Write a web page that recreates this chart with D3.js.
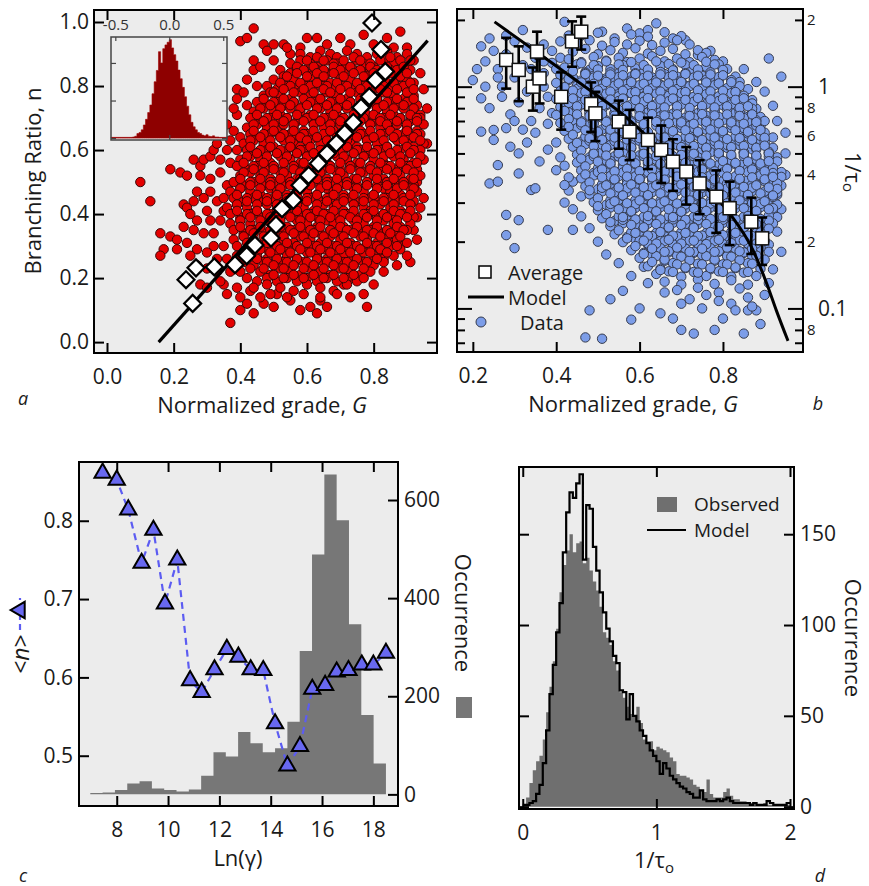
<!DOCTYPE html>
<html><head><meta charset="utf-8">
<script src="https://cdn.jsdelivr.net/npm/d3@7/dist/d3.min.js"></script>
<style>body{margin:0;background:#fff;}</style>
</head><body>
<script>
// ================= DATA =================
// ---- Panel a ----
const aXTicks=[0,0.2,0.4,0.6,0.8];
const aYTicks=[0,0.2,0.4,0.6,0.8,1.0];
// scatter points, pairs (G*100, n*100): outer cloud and outliers
const redXY=[
10,50, 13,44, 16,34, 17,29, 16,27, 19,54, 22,53, 24,52, 26,57, 28,55, 28,52, 19,33, 21,32, 23,43, 24,42, 23,36, 24,31, 27,29, 27,38, 29,57, 31,58, 32,60, 28,18, 30,17, 35,18, 37,6, 40,10, 42,12, 44,9, 47,12, 40,94, 44,98, 42,95, 39,79, 39,71, 42,74, 44,85, 44,88, 47,93, 50,93, 48,91, 53,93, 78,11, 91,25, 93,32, 93,50, 88,97, 90,92, 70,95, 63,95, 58,92, 55,13, 58,10, 61,11, 64,13, 51,15, 71,18, 74,20, 83,27, 85,31, 88,30, 93,39,
31,47, 33,44, 30,41, 34,38, 32,34, 35,30, 33,26, 36,49, 34,53, 37,56, 35,45, 31,38, 30,28, 33,22, 27,24, 26,44, 29,45, 31,51, 34,57, 36,60, 37,63, 38,66, 36,68, 40,64, 33,62, 39,60, 35,41, 32,30, 36,26, 37,22, 34,19, 36,15, 39,17, 25,27, 29,34, 30,23, 27,47, 25,40, 21,29, 26,35, 39,76, 41,78, 42,82, 45,80, 38,73, 46,86, 50,88, 55,90, 54,92, 60,95, 66,93, 73,93, 80,93, 84,95, 86,92, 77,96, 92,88, 94,84, 95,79, 96,73, 96,62, 95,45, 94,42, 92,35, 90,27, 87,24, 83,22, 80,18, 77,15, 73,14, 66,11, 63,9, 50,11, 46,14, 43,16, 40,14,
58,90, 61,89, 64,91, 67,90, 69,89, 72,91, 75,90, 78,89, 81,90, 84,91, 87,89, 90,90,
55,87, 58,88, 61,87, 63,86, 66,88, 69,87, 72,86, 75,88, 77,87, 80,86, 83,88, 86,87, 89,86, 91,88,
52,85, 55,84, 57,85, 60,84, 63,85, 66,84, 68,85, 71,84, 74,85, 77,84, 79,85, 82,84, 85,85, 88,84, 91,85,
50,82, 53,83, 56,82, 59,81, 61,83, 64,82, 67,81, 70,83, 73,82, 76,81, 78,83, 81,82, 84,81, 87,83, 90,82, 92,81,
48,80, 51,79, 54,80, 57,79, 60,80, 62,79, 65,80, 68,79, 71,80, 74,79, 77,80, 80,79, 82,80, 85,79, 88,80, 91,79,
47,77, 49,78, 52,77, 55,76, 58,78, 61,77, 64,76, 66,78, 69,77, 72,76, 75,78, 78,77, 81,76, 83,78, 86,77, 89,76, 92,77,
45,75, 48,74, 51,75, 53,74, 56,75, 59,74, 62,75, 65,74, 68,75, 70,74, 73,75, 76,74, 79,75, 82,74, 85,75, 87,74, 90,75, 93,74,
44,72, 47,73, 50,72, 52,71, 55,73, 58,72, 61,71, 64,73, 67,72, 69,71, 72,73, 75,72, 78,71, 81,73, 84,72, 86,71, 89,73, 92,72, 94,71,
43,70, 46,69, 49,70, 52,69, 54,70, 57,69, 60,70, 63,69, 66,70, 69,69, 71,70, 74,69, 77,70, 80,69, 83,70, 86,69, 88,70, 91,69, 94,70,
42,67, 45,68, 48,67, 51,66, 53,68, 56,67, 59,66, 62,68, 65,67, 68,66, 70,68, 73,67, 76,66, 79,68, 82,67, 85,66, 87,68, 90,67, 93,66, 95,68,
43,65, 46,64, 49,65, 52,64, 55,65, 57,64, 60,65, 63,64, 66,65, 69,64, 72,65, 74,64, 77,65, 80,64, 83,65, 86,64, 89,65, 91,64, 94,65,
41,62, 44,63, 47,62, 50,61, 53,63, 56,62, 58,61, 61,63, 64,62, 67,61, 70,63, 73,62, 75,61, 78,63, 81,62, 84,61, 87,63, 90,62, 92,61, 95,62,
42,60, 45,59, 48,60, 51,59, 54,60, 57,59, 59,60, 62,59, 65,60, 68,59, 71,60, 74,59, 76,60, 79,59, 82,60, 85,59, 88,60, 91,59, 94,60,
40,57, 43,58, 46,57, 49,56, 52,58, 55,57, 58,56, 60,58, 63,57, 66,56, 69,58, 72,57, 75,56, 77,58, 80,57, 83,56, 86,58, 89,57, 92,56, 95,57,
39,55, 42,54, 45,55, 48,54, 50,55, 53,54, 56,55, 59,54, 62,55, 65,54, 67,55, 70,54, 73,55, 76,54, 79,55, 82,54, 84,55, 87,54, 90,55, 93,54,
40,52, 43,53, 46,52, 49,51, 52,53, 54,52, 57,51, 60,53, 63,52, 66,51, 69,53, 71,52, 74,51, 77,53, 80,52, 83,51, 86,53, 88,52, 91,51, 94,52,
38,50, 41,49, 44,50, 47,49, 50,50, 53,49, 55,50, 58,49, 61,50, 64,49, 67,50, 70,49, 72,50, 75,49, 78,50, 81,49, 84,50, 87,49, 89,50, 92,49,
37,47, 40,48, 43,47, 46,46, 49,48, 51,47, 54,46, 57,48, 60,47, 63,46, 66,48, 68,47, 71,46, 74,48, 77,47, 80,46, 83,48, 85,47, 88,46, 91,48, 93,47,
38,45, 41,44, 44,45, 47,44, 50,45, 53,44, 56,45, 59,44, 61,45, 64,44, 67,45, 70,44, 73,45, 76,44, 79,45, 81,44, 84,45, 87,44, 90,45, 92,44,
36,42, 39,43, 42,42, 45,41, 48,43, 51,42, 54,41, 57,43, 59,42, 62,41, 65,43, 68,42, 71,41, 74,43, 77,42, 79,41, 82,43, 85,42, 88,41, 91,43,
37,40, 40,39, 43,40, 46,39, 49,40, 52,39, 55,40, 58,39, 61,40, 63,39, 66,40, 69,39, 72,40, 75,39, 78,40, 81,39, 83,40, 86,39, 89,40, 92,39,
37,37, 40,38, 43,37, 46,36, 48,38, 51,37, 54,36, 57,38, 60,37, 63,36, 66,38, 68,37, 71,36, 74,38, 77,37, 80,36, 83,38, 86,37, 88,36, 91,37,
38,35, 41,34, 44,35, 47,34, 50,35, 53,34, 56,35, 59,34, 62,35, 64,34, 67,35, 70,34, 73,35, 76,34, 79,35, 82,34, 84,35, 87,34, 90,35,
38,32, 41,33, 44,32, 47,31, 50,33, 53,32, 56,31, 58,33, 61,32, 64,31, 67,33, 70,32, 73,31, 76,33, 78,32, 81,31, 84,33, 87,32, 90,31,
39,30, 42,29, 45,30, 48,29, 51,30, 54,29, 57,30, 60,29, 62,30, 65,29, 68,30, 71,29, 74,30, 77,29, 80,30, 82,29, 85,30, 88,29,
39,27, 42,28, 45,27, 48,26, 51,28, 54,27, 57,26, 60,28, 63,27, 66,26, 68,28, 71,27, 74,26, 77,28, 80,27, 83,26, 86,27,
41,25, 44,24, 47,25, 50,24, 53,25, 56,24, 59,25, 62,24, 65,25, 68,24, 71,25, 74,24, 77,25, 80,24, 83,25,
40,22, 43,23, 46,22, 49,21, 52,23, 55,22, 58,21, 61,23, 64,22, 67,21, 70,23, 73,22, 76,21, 79,22,
42,20, 45,19, 48,20, 51,19, 54,20, 57,19, 60,20, 63,19, 66,20, 69,19, 72,20, 75,19, 77,20,
44,17, 48,18, 52,17, 56,16, 60,18, 64,17, 68,16, 72,18,
49,15, 54,14, 59,15, 64,14, 69,15
];
// scatter points in the dense core, pairs (G*100, n*100)
const redCoreXY=[
60,88, 63,89, 65,88, 68,87, 71,88, 74,89, 76,88, 79,87, 82,88, 85,89, 88,88,
57,86, 59,85, 62,86, 65,85, 68,86, 70,85, 73,86, 76,85, 79,86, 81,85, 84,86, 87,85, 89,86,
54,83, 57,84, 60,83, 63,84, 65,83, 68,84, 71,83, 74,84, 77,83, 80,84, 82,83, 85,84, 88,83, 90,84,
52,81, 55,80, 58,81, 61,80, 63,81, 66,80, 69,81, 72,80, 75,81, 78,80, 81,81, 83,80, 86,81, 89,80, 91,81,
50,78, 53,79, 56,78, 59,79, 62,78, 65,79, 67,78, 70,79, 73,78, 76,79, 79,78, 82,79, 84,78, 87,79, 90,78, 92,79,
47,76, 50,75, 53,76, 56,75, 59,76, 61,75, 64,76, 67,75, 70,76, 73,75, 76,76, 78,75, 81,76, 84,75, 87,76, 90,75, 92,76,
46,73, 49,74, 52,73, 55,74, 58,73, 60,74, 63,73, 66,74, 69,73, 72,74, 75,73, 78,74, 81,73, 83,74, 86,73, 89,74, 92,73,
45,71, 48,70, 51,71, 54,70, 57,71, 60,70, 62,71, 65,70, 68,71, 71,70, 74,71, 77,70, 80,71, 82,70, 85,71, 88,70, 91,71, 93,70,
44,68, 47,69, 50,68, 53,69, 56,68, 59,69, 62,68, 64,69, 67,68, 70,69, 73,68, 76,69, 79,68, 82,69, 84,68, 87,69, 90,68, 93,69,
44,66, 47,65, 50,66, 53,65, 56,66, 59,65, 62,66, 65,65, 67,66, 70,65, 73,66, 76,65, 79,66, 82,65, 85,66, 87,65, 90,66, 93,65,
43,63, 46,64, 49,63, 52,64, 55,63, 58,64, 60,63, 63,64, 66,63, 69,64, 72,63, 75,64, 78,63, 80,64, 83,63, 86,64, 89,63, 92,64, 94,63,
43,61, 46,60, 49,61, 52,60, 55,61, 58,60, 61,61, 64,60, 67,61, 70,60, 72,61, 75,60, 78,61, 81,60, 84,61, 87,60, 90,61, 92,60,
42,58, 45,59, 48,58, 51,59, 54,58, 57,59, 60,58, 62,59, 65,58, 68,59, 71,58, 74,59, 77,58, 80,59, 83,58, 85,59, 88,58, 91,59, 94,58,
41,56, 44,55, 47,56, 50,55, 53,56, 56,55, 59,56, 62,55, 64,56, 67,55, 70,56, 73,55, 76,56, 79,55, 82,56, 85,55, 88,56, 91,55, 93,56,
41,53, 44,54, 47,53, 50,54, 53,53, 56,54, 58,53, 61,54, 64,53, 67,54, 70,53, 73,54, 76,53, 79,54, 81,53, 84,54, 87,53, 90,54, 92,53,
40,51, 43,50, 46,51, 49,50, 52,51, 55,50, 58,51, 61,50, 63,51, 66,50, 69,51, 72,50, 75,51, 78,50, 81,51, 84,50, 86,51, 89,50, 92,51,
40,48, 43,49, 46,48, 49,49, 52,48, 55,49, 58,48, 61,49, 64,48, 66,49, 69,48, 72,49, 75,48, 78,49, 81,48, 84,49, 87,48, 89,49, 92,48,
39,46, 42,45, 45,46, 48,45, 51,46, 54,45, 57,46, 60,45, 63,46, 66,45, 68,46, 71,45, 74,46, 77,45, 80,46, 83,45, 86,46, 89,45, 91,46,
39,43, 42,44, 45,43, 48,44, 51,43, 54,44, 57,43, 60,44, 63,43, 66,44, 69,43, 71,44, 74,43, 77,44, 80,43, 83,44, 86,43, 89,44, 91,43,
39,41, 42,40, 45,41, 48,40, 51,41, 54,40, 57,41, 60,40, 63,41, 65,40, 68,41, 71,40, 74,41, 77,40, 80,41, 83,40, 86,41, 88,40, 91,41,
40,38, 43,39, 46,38, 49,39, 52,38, 55,39, 58,38, 61,39, 64,38, 67,39, 70,38, 73,39, 75,38, 78,39, 81,38, 84,39, 87,38, 90,39,
40,36, 43,35, 46,36, 49,35, 52,36, 55,35, 58,36, 61,35, 64,36, 67,35, 70,36, 72,35, 75,36, 78,35, 81,36, 84,35, 87,36, 89,35,
41,33, 44,34, 47,33, 50,34, 53,33, 56,34, 59,33, 62,34, 65,33, 68,34, 71,33, 74,34, 77,33, 80,34, 82,33, 85,34, 88,33,
42,31, 45,30, 48,31, 51,30, 54,31, 57,30, 60,31, 63,30, 66,31, 69,30, 72,31, 75,30, 78,31, 81,30, 84,31, 87,30,
43,28, 46,29, 49,28, 52,29, 55,28, 58,29, 61,28, 64,29, 67,28, 70,29, 73,28, 76,29, 79,28, 82,29, 84,28,
45,26, 48,25, 51,26, 54,25, 57,26, 60,25, 63,26, 66,25, 69,26, 72,25, 75,26, 78,25, 81,26,
47,23, 50,24, 53,23, 56,24, 59,23, 62,24, 65,23, 68,24, 71,23, 74,24, 77,23,
50,21, 53,20, 56,21, 59,20, 62,21, 65,20, 68,21, 71,20, 74,21
];
// averages (white diamonds)
const diaG=[0.795,0.822,0.835,0.805,0.787,0.762,0.739,0.713,0.688,0.660,0.634,0.605,0.579,0.559,0.525,0.507,0.492,0.444,0.419,0.384,0.322,0.267,0.237,0.257];
const diaN=[0.997,0.914,0.845,0.818,0.767,0.733,0.686,0.652,0.621,0.589,0.558,0.521,0.490,0.443,0.417,0.366,0.325,0.303,0.270,0.242,0.235,0.232,0.195,0.121];
// model line
const modelAG=[0.155,0.962];
const modelAN=[0.0,0.942];
// inset histogram
const insetEdges=[-0.54,-0.52,-0.50,-0.48,-0.46,-0.44,-0.42,-0.40,-0.38,-0.36,-0.34,-0.32,-0.30,-0.28,-0.26,-0.24,-0.22,-0.20,-0.18,-0.16,-0.14,-0.12,-0.10,-0.08,-0.06,-0.04,-0.02,0,0.02,0.04,0.06,0.08,0.10,0.12,0.14,0.16,0.18,0.20,0.22,0.24,0.26,0.28,0.30,0.32,0.34,0.36,0.38,0.40,0.42,0.44,0.46,0.48,0.50,0.52,0.54];
const insetCounts=[2,2,2,2,2,2,2,2,2,2,3,5,12,15,22,35,50,68,88,118,150,180,230,200,238,248,255,262,240,222,205,181,158,135,110,85,62,42,30,22,15,12,8,6,9,5,4,6,3,3,2,2,2,2];
const insetXTicks=[-0.5,0,0.5];
const insetYTicks=[0,100,200];

// ---- Panel b ----
const bXTicks=[0.2,0.4,0.6,0.8];
const bMinorT=[0.07,0.08,0.09,0.2,0.3,0.4,0.5,0.6,0.7,0.8,0.9,2];
const bMinorL=["","8","","2","","4","","6","","8","","2"];
const bMajorT=[0.1,1];
const bMajorL=["0.1","1"];
// scatter points, pairs (G*100, (1/tau)*1000)
const blueXY=[
20,1070, 22,1520, 24,1650, 22,886, 25,638, 22,627, 25,575, 29,536, 31,500, 26,443, 24,366, 26,373, 31,406, 34,342, 35,348, 42,300, 28,264, 31,250, 28,214, 30,187, 38,226, 44,226, 44,373,
23,1300, 26,1200, 28,1400, 30,1600, 33,1500, 27,1000, 30,1100, 32,1250, 35,1350, 37,1550, 39,1450, 24,800, 27,900, 29,750, 31,850, 33,950, 35,1050, 37,1150, 38,900, 36,800, 34,700, 32,640, 30,700, 28,650, 35,620, 38,680, 39,760, 37,1000, 39,1280, 41,1350, 41,1600, 43,1700, 40,560, 38,520, 41,480, 42,440, 40,420, 43,390, 36,460, 33,560, 26,1100, 21,1200, 23,1000, 25,1450, 28,1700, 32,1800, 34,1200, 37,1300, 40,1200,
42,1960, 51,1770, 57,1830, 60,1740, 64,1930, 62,1800, 68,1650, 71,1620, 74,1390, 77,1450, 80,1300, 85,1200, 88,1050, 91,1340, 94,1110, 90,950, 92,820, 93,700, 95,620,
48,98, 47,74, 51,73, 58,89, 61,154, 70,80, 73,77, 78,80, 85,77, 86,98, 88,98, 93,222, 93,325, 95,400, 95,500, 94,280, 94,180, 92,150, 91,130, 90,115, 89,85, 80,90, 76,115, 70,105, 66,118, 62,130, 58,140, 55,160, 52,175, 50,200, 48,230, 46,260, 44,280, 46,320, 43,340, 42,360, 53,110, 56,120, 60,100, 65,95, 68,90, 82,105,
46,1700, 50,1750, 54,1650, 58,1720, 62,1680, 66,1760, 70,1690,
45,1570, 48,1620, 51,1530, 54,1590, 57,1550, 60,1610, 63,1540, 66,1580, 69,1620, 72,1550,
44,1440, 47,1480, 50,1400, 53,1460, 56,1420, 59,1490, 62,1410, 65,1450, 68,1480, 71,1400, 74,1460, 76,1420,
43,1330, 46,1290, 49,1360, 52,1310, 55,1350, 57,1290, 60,1340, 63,1370, 66,1300, 69,1340, 72,1290, 75,1360, 78,1320,
42,1220, 45,1260, 48,1190, 50,1240, 53,1200, 56,1250, 59,1210, 62,1180, 65,1240, 68,1200, 71,1250, 73,1190, 76,1230, 79,1260, 81,1200,
41,1130, 44,1100, 47,1160, 49,1120, 52,1090, 55,1150, 58,1110, 61,1160, 63,1100, 66,1140, 69,1110, 72,1160, 75,1120, 77,1090, 80,1150, 83,1110,
40,1040, 43,1070, 45,1010, 48,1050, 51,1020, 54,1070, 57,1030, 59,1000, 62,1060, 65,1020, 68,1050, 71,1010, 73,1070, 76,1030, 79,1060, 82,1010, 84,1050,
41,955, 43,925, 46,985, 49,945, 52,925, 55,975, 57,935, 60,985, 63,950, 66,920, 69,970, 71,940, 74,985, 77,930, 80,965, 83,945, 86,975,
40,880, 42,905, 45,860, 48,895, 51,870, 54,850, 56,900, 59,875, 62,855, 65,905, 68,870, 70,890, 73,855, 76,900, 79,870, 81,850, 84,895, 87,870,
41,810, 44,790, 47,830, 50,800, 52,825, 55,785, 58,815, 61,835, 64,795, 66,820, 69,790, 72,830, 75,805, 78,785, 80,825, 83,800, 86,830, 88,795,
40,745, 43,765, 45,730, 48,755, 51,725, 54,760, 57,740, 60,720, 62,765, 65,735, 68,755, 71,725, 74,760, 76,740, 79,720, 82,760, 85,735, 87,765, 89,730,
41,686, 44,705, 47,670, 49,695, 52,665, 55,700, 58,680, 61,665, 64,705, 66,675, 69,695, 72,665, 75,700, 78,680, 80,705, 83,670, 86,695, 89,665, 90,700,
42,632, 45,650, 48,615, 51,640, 53,620, 56,655, 59,630, 62,610, 65,645, 68,625, 70,650, 73,615, 76,640, 79,625, 82,650, 84,615, 87,640, 90,620,
43,582, 46,565, 49,595, 52,575, 55,600, 57,565, 60,590, 63,575, 66,600, 69,565, 72,585, 74,600, 77,570, 80,590, 83,565, 86,595, 89,575, 92,590,
44,536, 47,550, 50,525, 53,545, 56,520, 58,550, 61,530, 64,545, 67,520, 70,550, 73,535, 75,520, 78,548, 81,530, 84,545, 87,522, 90,548, 92,530,
45,494, 48,480, 51,505, 54,485, 57,508, 60,490, 62,478, 65,505, 68,486, 71,500, 74,480, 77,506, 79,490, 82,478, 85,505, 88,485, 91,500, 93,480,
45,455, 48,468, 51,445, 53,462, 56,443, 59,466, 62,450, 65,470, 68,445, 71,460, 73,448, 76,468, 79,444, 82,462, 85,450, 88,468, 90,446, 93,460,
46,419, 49,408, 52,430, 55,412, 58,428, 61,406, 64,425, 67,410, 70,430, 72,412, 75,426, 78,406, 81,428, 84,415, 87,430, 89,408, 92,425, 94,412,
46,386, 49,398, 52,378, 55,395, 57,375, 60,392, 63,380, 66,398, 69,376, 72,394, 75,382, 77,398, 80,375, 83,392, 86,380, 89,397, 92,376, 94,392,
47,355, 50,345, 53,365, 56,348, 59,362, 62,344, 65,360, 68,350, 71,366, 74,346, 77,360, 80,344, 83,364, 86,350, 88,362, 91,345, 94,358,
48,327, 51,337, 54,320, 57,335, 60,318, 63,334, 66,322, 69,338, 72,320, 75,333, 78,318, 81,336, 84,324, 87,338, 90,319, 93,332,
49,301, 52,293, 55,309, 58,296, 61,310, 64,292, 67,306, 70,296, 73,310, 76,294, 79,305, 82,292, 85,308, 88,297, 91,310, 93,294,
50,277, 53,285, 56,270, 59,284, 62,272, 65,286, 68,270, 71,282, 74,272, 77,285, 80,270, 83,283, 86,273, 89,286, 92,271,
51,255, 54,248, 57,262, 60,250, 63,263, 66,247, 69,260, 72,250, 75,262, 78,248, 81,258, 84,250, 87,262, 90,248, 93,258,
53,235, 56,242, 59,229, 62,241, 65,230, 68,243, 71,229, 74,240, 77,231, 80,243, 83,229, 86,240, 89,232, 92,242,
54,216, 57,210, 60,222, 63,212, 66,223, 69,210, 72,220, 75,211, 78,223, 81,210, 84,220, 87,212, 90,222,
56,199, 59,205, 62,194, 65,204, 68,193, 71,203, 74,194, 77,205, 80,193, 83,203, 86,195, 89,205, 91,194,
58,183, 61,178, 64,188, 67,179, 70,189, 73,178, 76,187, 79,180, 82,189, 85,178, 88,186, 91,180,
60,169, 63,174, 66,164, 69,173, 72,165, 75,174, 78,164, 81,172, 84,165, 87,173, 90,166,
62,155, 65,151, 68,160, 71,152, 74,159, 77,150, 80,158, 83,152, 86,160, 89,151,
64,143, 67,147, 70,139, 73,146, 76,140, 79,147, 82,139, 85,145, 88,140,
66,132, 70,128, 74,135, 78,129, 82,134, 86,128,
69,121, 74,124, 79,118, 84,123,
72,110, 79,108, 86,112, 75,100, 83,98, 87,102
];
// scatter points in the dense core, pairs (G*100, (1/tau)*1000)
const blueCoreXY=[
46,1275, 49,1250, 52,1300, 55,1260, 58,1290, 61,1250, 64,1300, 67,1265, 70,1285, 73,1250, 76,1295, 78,1260,
44,1175, 47,1150, 50,1195, 53,1160, 56,1190, 59,1150, 62,1195, 65,1165, 68,1185, 71,1150, 74,1195, 77,1160, 80,1190,
43,1085, 46,1065, 49,1100, 52,1070, 55,1105, 58,1065, 61,1095, 64,1070, 67,1105, 70,1065, 73,1100, 76,1075, 79,1105, 82,1070,
42,995, 45,975, 48,1015, 51,980, 54,1010, 57,975, 60,1015, 63,985, 66,1010, 69,975, 72,1005, 75,980, 78,1015, 81,985, 84,1005,
43,915, 46,935, 49,900, 52,930, 55,905, 58,935, 61,900, 64,930, 67,910, 70,935, 73,900, 76,925, 79,905, 82,935, 85,910,
43,845, 46,830, 49,860, 52,835, 55,862, 58,830, 61,855, 64,835, 67,860, 70,830, 73,855, 76,835, 79,862, 82,832, 85,858, 87,840,
42,777, 45,795, 48,765, 51,790, 54,762, 57,792, 60,770, 63,795, 66,765, 69,790, 72,768, 75,795, 78,765, 81,790, 84,770, 87,795,
43,715, 46,700, 49,728, 52,705, 55,730, 58,700, 61,725, 64,708, 67,730, 70,700, 73,725, 76,705, 79,730, 82,700, 85,722, 88,705,
43,658, 46,672, 49,645, 52,670, 55,648, 58,675, 61,650, 64,668, 67,645, 70,672, 73,650, 76,670, 79,645, 82,672, 85,650, 88,668,
44,607, 47,595, 50,620, 53,598, 56,618, 59,594, 62,620, 65,600, 68,615, 71,595, 74,620, 77,600, 80,618, 83,595, 86,615, 89,600,
45,558, 48,570, 51,548, 54,568, 57,545, 60,570, 63,550, 66,567, 69,545, 72,570, 75,552, 78,568, 81,546, 84,570, 87,550, 90,566,
46,515, 49,505, 52,525, 55,508, 58,526, 61,505, 64,522, 67,508, 70,526, 73,505, 76,524, 79,510, 82,526, 85,506, 88,522, 91,508,
46,474, 49,485, 52,465, 55,484, 58,463, 61,486, 64,468, 67,483, 70,464, 73,486, 76,470, 79,484, 82,464, 85,486, 88,470, 91,483,
47,437, 50,428, 53,446, 56,430, 59,447, 62,428, 65,444, 68,430, 71,447, 74,428, 77,444, 80,432, 83,447, 86,428, 89,442, 92,430,
47,402, 50,412, 53,395, 56,410, 59,394, 62,412, 65,396, 68,410, 71,394, 74,412, 77,398, 80,410, 83,394, 86,412, 89,398, 92,408,
48,370, 51,362, 54,378, 57,364, 60,380, 63,362, 66,376, 69,364, 72,380, 75,362, 78,376, 81,366, 84,380, 87,362, 90,375, 93,366,
48,341, 51,350, 54,334, 57,348, 60,333, 63,350, 66,336, 69,348, 72,333, 75,350, 78,337, 81,348, 84,333, 87,350, 90,337, 93,346,
50,314, 53,307, 56,322, 59,308, 62,320, 65,306, 68,322, 71,309, 74,320, 77,306, 80,322, 83,310, 86,320, 89,307, 92,318,
50,289, 53,296, 56,282, 59,295, 62,283, 65,297, 68,282, 71,294, 74,284, 77,297, 80,282, 83,294, 86,284, 89,296, 92,283,
52,266, 55,260, 58,272, 61,259, 64,271, 67,260, 70,273, 73,259, 76,270, 79,261, 82,273, 85,259, 88,270, 91,262,
53,245, 56,251, 59,239, 62,250, 65,238, 68,252, 71,240, 74,250, 77,238, 80,251, 83,240, 86,252, 89,239, 91,249,
55,225, 58,220, 61,231, 64,219, 67,230, 70,220, 73,232, 76,219, 79,230, 82,221, 85,231, 88,219, 91,229,
57,207, 60,202, 63,212, 66,201, 69,211, 72,202, 75,213, 78,201, 81,211, 84,203, 87,212, 90,202,
59,191, 62,196, 65,187, 68,195, 71,186, 74,196, 77,187, 80,195, 83,186, 86,196, 89,188,
61,176, 64,172, 67,181, 70,171, 73,180, 76,172, 79,181, 82,171, 85,179, 88,173,
63,162, 66,166, 69,158, 72,165, 75,158, 78,166, 81,158, 84,165, 87,159,
65,149, 68,146, 71,153, 74,145, 77,152, 80,146, 83,153, 86,146
];
// more scatter points in the densest diagonal band, pairs (G*100, (1/tau)*1000)
const blueBandXY=[
47,1140, 50,1120, 53,1135, 56,1125, 59,1140, 62,1120, 65,1135, 68,1125, 71,1140, 74,1120, 77,1135, 80,1125,
46,1045, 49,1030, 52,1050, 55,1035, 58,1048, 61,1030, 64,1045, 67,1035, 70,1050, 73,1030, 76,1045, 79,1035, 82,1048,
44,960, 47,948, 50,962, 53,950, 56,958, 59,945, 62,962, 65,950, 68,958, 71,946, 74,962, 77,952, 80,958, 83,946,
44,885, 47,872, 50,888, 53,875, 56,884, 59,870, 62,888, 65,876, 68,884, 71,872, 74,888, 77,876, 80,884, 83,872, 85,886,
45,815, 48,802, 51,818, 54,805, 57,815, 60,800, 63,818, 66,806, 69,815, 72,802, 75,818, 78,806, 81,815, 84,802, 86,816,
45,750, 48,738, 51,752, 54,740, 57,750, 60,736, 63,752, 66,742, 69,750, 72,738, 75,752, 78,742, 81,750, 84,738, 87,750,
46,690, 49,680, 52,694, 55,682, 58,690, 61,678, 64,694, 67,684, 70,690, 73,680, 76,694, 79,684, 82,690, 85,680, 88,692,
47,636, 50,626, 53,640, 56,628, 59,636, 62,624, 65,640, 68,630, 71,636, 74,626, 77,640, 80,630, 83,636, 86,626, 89,638,
48,586, 51,576, 54,590, 57,578, 60,586, 63,574, 66,590, 69,580, 72,586, 75,576, 78,590, 81,580, 84,586, 87,576, 90,588,
49,540, 52,530, 55,543, 58,532, 61,540, 64,529, 67,543, 70,534, 73,540, 76,530, 79,543, 82,534, 85,540, 88,530, 90,542,
49,498, 52,489, 55,501, 58,490, 61,498, 64,487, 67,501, 70,492, 73,498, 76,489, 79,501, 82,492, 85,498, 88,489, 91,500,
50,459, 53,450, 56,462, 59,451, 62,459, 65,449, 68,462, 71,453, 74,459, 77,450, 80,462, 83,453, 86,459, 89,450, 91,461,
51,423, 54,415, 57,426, 60,416, 63,423, 66,414, 69,426, 72,417, 75,423, 78,415, 81,426, 84,417, 87,423, 90,415,
51,390, 54,382, 57,393, 60,383, 63,390, 66,381, 69,393, 72,384, 75,390, 78,382, 81,393, 84,384, 87,390, 90,382, 92,392,
52,359, 55,351, 58,362, 61,352, 64,359, 67,350, 70,362, 73,353, 76,359, 79,351, 82,362, 85,353, 88,359, 91,351,
53,330, 56,323, 59,333, 62,324, 65,330, 68,322, 71,333, 74,325, 77,330, 80,323, 83,333, 86,325, 89,330, 92,323,
54,304, 57,298, 60,307, 63,298, 66,304, 69,297, 72,307, 75,299, 78,304, 81,298, 84,307, 87,299, 90,304,
55,280, 58,274, 61,283, 64,274, 67,280, 70,273, 73,283, 76,275, 79,280, 82,274, 85,283, 88,275, 91,280,
56,258, 59,252, 62,261, 65,252, 68,258, 71,251, 74,261, 77,253, 80,258, 83,252, 86,261, 89,253,
58,238, 61,232, 64,240, 67,232, 70,238, 73,231, 76,240, 79,233, 82,238, 85,232, 88,240,
59,219, 62,213, 65,221, 68,213, 71,219, 74,212, 77,221, 80,214, 83,219, 86,213, 89,220,
61,202, 64,196, 67,204, 70,196, 73,202, 76,195, 79,204, 82,197, 85,202, 88,196,
63,186, 66,180, 69,188, 72,180, 75,186, 78,180, 81,188, 84,181, 87,186
];
// averages with error bars
const avgG=[0.28,0.31,0.354,0.344,0.36,0.412,0.438,0.46,0.484,0.494,0.55,0.576,0.62,0.652,0.68,0.712,0.744,0.784,0.816,0.868,0.894];
const avgV=[1.32,1.19,1.44,1.0,1.09,0.90,1.6,1.77,0.835,0.758,0.695,0.626,0.575,0.518,0.459,0.414,0.366,0.319,0.283,0.246,0.207];
const avgErr=[0.34,0.33,0.33,0.22,0.25,0.26,0.37,0.3,0.21,0.19,0.17,0.16,0.15,0.15,0.12,0.12,0.1,0.1,0.09,0.07,0.05];
// model curve
const modelBG=[0.252,0.354,0.48,0.552,0.68,0.816,0.872,0.908,0.928,0.956];
const modelBV=[1.96,1.43,0.966,0.771,0.462,0.268,0.183,0.125,0.098,0.0714];

// ---- Panel c ----
const cXTicks=[8,10,12,14,16,18];
const cLTicks=[0.5,0.6,0.7,0.8];
const cRTicks=[0,200,400,600];
const nX=[7.45,8.0,8.45,8.97,9.43,9.88,10.36,10.86,11.31,11.81,12.29,12.74,13.22,13.71,14.17,14.65,15.14,15.62,16.12,16.57,17.03,17.55,18.0,18.49];
const nY=[0.861,0.852,0.814,0.746,0.788,0.694,0.75,0.596,0.581,0.61,0.636,0.626,0.61,0.609,0.541,0.487,0.512,0.585,0.59,0.607,0.609,0.616,0.616,0.631];
const cEdges=[6.97,7.45,7.93,8.41,8.89,9.37,9.85,10.33,10.81,11.29,11.77,12.25,12.73,13.21,13.69,14.17,14.65,15.13,15.61,16.09,16.57,17.05,17.53,18.01,18.49];
const cCounts=[3,4,9,22,27,12,9,6,10,38,86,77,127,104,86,94,148,292,489,652,559,347,162,63];

// ---- Panel d ----
const dXTicks=[0,1,2];
const dYTicks=[0,50,100,150];
const dEdges=[0,.025,.05,.075,.1,.125,.15,.175,.2,.225,.25,.275,.3,.325,.35,.375,.4,.425,.45,.475,.5,.525,.55,.575,.6,.625,.65,.675,.7,.725,.75,.775,.8,.825,.85,.875,.9,.925,.95,.975,1,1.025,1.05,1.075,1.1,1.125,1.15,1.175,1.2,1.225,1.25,1.275,1.3,1.325,1.35,1.375,1.4,1.425,1.45,1.475,1.5,1.525,1.55,1.575,1.6,1.625,1.65,1.675,1.7,1.725,1.75,1.775,1.8,1.825,1.85,1.875,1.9,1.925,1.95,1.975,2];
const dObs=[1,5,13,20,25,28,37,52,66,80,98,118,133,141,150,140,145,146,134,137,130,124,119,110,96,93,89,80,75,63,60,55,51,50,55,46,37,36,36,31,33,32,31,30,27,25,18,17,17,16,15,12,11,9,8,15,7,5,5,5,8,10,6,4,4,3,3,2,2,2,1,1,2,1,1,1,1,1,1,1];
const dModel=[1,1,2,3,7,12,24,42,62,78,96,112,140,162,173,170,178,183,136,166,164,143,130,118,107,98,91,83,79,64,63,48,62,50,47,42,39,35,31,28,25,18,24,21,17,15,13,11,10,8,7,5,5,9,4,3,3,3,4,3,4,5,3,2,2,2,2,2,1,2,1,1,1,3,2,1,1,1,1,2];

// ================= DRAWING =================
const FONT="'Open Sans', 'DejaVu Sans', sans-serif";
const TXT="#1a1a1a";
const svg=d3.select("body").append("svg").attr("width",869).attr("height",886).attr("font-family",FONT);
const defs=svg.append("defs");
let clipId=0;
function plotBg(x0,y0,x1,y1,fill){
  svg.append("rect").attr("x",x0).attr("y",y0).attr("width",x1-x0).attr("height",y1-y0).attr("fill",fill||"#ececec");
  const id="cp"+(clipId++);
  defs.append("clipPath").attr("id",id).append("rect").attr("x",x0).attr("y",y0).attr("width",x1-x0).attr("height",y1-y0);
  return svg.append("g").attr("clip-path",`url(#${id})`);
}
function frame(x0,y0,x1,y1,stroke,w){
  svg.append("rect").attr("x",x0).attr("y",y0).attr("width",x1-x0).attr("height",y1-y0)
    .attr("fill","none").attr("stroke",stroke||"#000").attr("stroke-width",w||2);
}
function ax(gen,tx,ty,fs,tw,col){
  const g=svg.append("g").attr("transform",`translate(${tx},${ty})`).call(gen);
  g.select(".domain").remove();
  g.selectAll(".tick line").attr("stroke",col||"#000").attr("stroke-width",tw||2);
  g.selectAll(".tick text").attr("font-size",fs||21).attr("font-family",FONT).attr("fill",TXT);
  return g;
}
function pairs(arr,sx,sy){const out=[];for(let i=0;i<arr.length;i+=2)out.push([arr[i]/sx,arr[i+1]/sy]);return out;}

// ---------- Panel a ----------
const xa=d3.scaleLinear().domain([-0.039,0.99]).range([94,437]);
const ya=d3.scaleLinear().domain([-0.034,1.0375]).range([353,10]);
const ga=plotBg(94,10,437,353);
const redAll=pairs(redXY,100,100).concat(pairs(redCoreXY,100,100));
ga.append("g").selectAll("circle").data(redAll).join("circle")
  .attr("cx",d=>xa(d[0])).attr("cy",d=>ya(d[1])).attr("r",4.7)
  .attr("fill","#e40000").attr("stroke","#3a0606").attr("stroke-width",1);
ga.append("path").datum(d3.zip(modelAG,modelAN)).attr("fill","none").attr("stroke","#000").attr("stroke-width",3.2)
  .attr("d",d3.line().x(d=>xa(d[0])).y(d=>ya(d[1])));
ga.append("g").selectAll("path").data(d3.zip(diaG,diaN)).join("path")
  .attr("d",d3.symbol(d3.symbolSquare,144))
  .attr("transform",d=>`translate(${xa(d[0])},${ya(d[1])}) rotate(45)`)
  .attr("fill","#fff").attr("stroke","#000").attr("stroke-width",2.2);
// inset
const xi=d3.scaleLinear().domain([-0.54,0.535]).range([111,227]);
const yi=d3.scaleLinear().domain([-5,269]).range([140,37]);
svg.append("rect").attr("x",111).attr("y",37).attr("width",116).attr("height",103).attr("fill","#ececec");
svg.append("path").datum(insetEdges.map((e,i)=>[e,insetCounts[Math.min(i,insetCounts.length-1)]]))
  .attr("fill","#8e0000").attr("stroke","#a00000").attr("stroke-width",0.6)
  .attr("d",d3.area().curve(d3.curveStepAfter).x(d=>xi(d[0])).y0(yi(0)).y1(d=>yi(d[1])));
ax(d3.axisTop(xi).tickValues(insetXTicks).tickFormat(d=>d.toFixed(1)).tickSize(-4).tickPadding(7),0,37,15,1.2,"#444")
  .selectAll(".tick text").attr("fill","#333");
ax(d3.axisBottom(xi).tickValues([0]).tickFormat("").tickSize(-5),0,140,15,1.2,"#444");
ax(d3.axisLeft(yi).tickValues(insetYTicks).tickFormat("").tickSize(-5),111,0,15,1.2,"#444");
ax(d3.axisRight(yi).tickValues(insetYTicks).tickFormat("").tickSize(-5),227,0,15,1.2,"#444");
frame(111,37,227,140,"#444",1.5);
ax(d3.axisBottom(xa).tickValues(aXTicks).tickFormat(d3.format(".1f")).tickSize(-10).tickPadding(16),0,353,21);
ax(d3.axisTop(xa).tickValues(aXTicks).tickFormat("").tickSize(-10),0,10);
ax(d3.axisLeft(ya).tickValues(aYTicks).tickFormat(d3.format(".1f")).tickSize(-10).tickPadding(5),94,0,21);
ax(d3.axisRight(ya).tickValues(aYTicks).tickFormat("").tickSize(-10),437,0);
frame(94,10,437,353);
svg.append("text").attr("transform","translate(32,181) rotate(-90)").attr("text-anchor","middle")
  .attr("dominant-baseline","central").attr("font-size",22).attr("fill",TXT).text("Branching Ratio, n");
{const t=svg.append("text").attr("x",262).attr("y",413).attr("text-anchor","middle").attr("font-size",22).attr("fill",TXT);
 t.append("tspan").text("Normalized grade, "); t.append("tspan").attr("font-style","italic").text("G");}
svg.append("text").attr("x",23).attr("y",405).attr("text-anchor","middle").attr("font-size",18).attr("font-style","italic").attr("fill",TXT).text("a");

// ---------- Panel b ----------
const xb=d3.scaleLinear().domain([0.162,0.992]).range([457,803]);
const yb=d3.scaleLog().domain([0.0636,2.24]).range([352,9]);
const gb=plotBg(457,9,803,352);
const blueAll=pairs(blueXY,100,1000).concat(pairs(blueCoreXY,100,1000)).concat(pairs(blueBandXY,100,1000));
gb.append("g").selectAll("circle").data(blueAll).join("circle")
  .attr("cx",d=>xb(d[0])).attr("cy",d=>yb(d[1])).attr("r",4.7)
  .attr("fill","#7c9de8").attr("stroke","#353b4e").attr("stroke-width",1);
gb.append("path").datum(d3.zip(modelBG,modelBV)).attr("fill","none").attr("stroke","#000").attr("stroke-width",3)
  .attr("d",d3.line().curve(d3.curveMonotoneX).x(d=>xb(d[0])).y(d=>yb(d[1])));
const eb=gb.append("g").selectAll("g").data(d3.range(avgG.length)).join("g");
eb.append("line").attr("x1",i=>xb(avgG[i])).attr("x2",i=>xb(avgG[i]))
  .attr("y1",i=>yb(avgV[i]+avgErr[i])).attr("y2",i=>yb(avgV[i]-avgErr[i])).attr("stroke","#000").attr("stroke-width",2.6);
eb.append("line").attr("x1",i=>xb(avgG[i])-5).attr("x2",i=>xb(avgG[i])+5)
  .attr("y1",i=>yb(avgV[i]+avgErr[i])).attr("y2",i=>yb(avgV[i]+avgErr[i])).attr("stroke","#000").attr("stroke-width",2.6);
eb.append("line").attr("x1",i=>xb(avgG[i])-5).attr("x2",i=>xb(avgG[i])+5)
  .attr("y1",i=>yb(avgV[i]-avgErr[i])).attr("y2",i=>yb(avgV[i]-avgErr[i])).attr("stroke","#000").attr("stroke-width",2.6);
gb.append("g").selectAll("rect").data(d3.range(avgG.length)).join("rect")
  .attr("x",i=>xb(avgG[i])-6.5).attr("y",i=>yb(avgV[i])-6.5).attr("width",13).attr("height",13)
  .attr("fill","#fff").attr("stroke","#111").attr("stroke-width",1.5);
svg.append("rect").attr("x",479).attr("y",266).attr("width",12).attr("height",12).attr("fill","#fff").attr("stroke","#000").attr("stroke-width",1.5);
svg.append("line").attr("x1",468).attr("x2",504).attr("y1",297).attr("y2",297).attr("stroke","#000").attr("stroke-width",3);
svg.append("circle").attr("cx",481).attr("cy",322).attr("r",5).attr("fill","#7c9de8").attr("stroke","#353b4e");
[["Average",508,272],["Model",508,297],["Data",520,322]].forEach(d=>{
  svg.append("text").attr("x",d[1]).attr("y",d[2]).attr("dominant-baseline","central").attr("font-size",20).attr("fill",TXT).text(d[0]);
});
ax(d3.axisBottom(xb).tickValues(bXTicks).tickFormat(d3.format(".1f")).tickSize(-10).tickPadding(16),0,352,21);
ax(d3.axisTop(xb).tickValues(bXTicks).tickFormat("").tickSize(-10),0,9);
ax(d3.axisLeft(yb).tickValues(bMinorT).tickFormat("").tickSize(-8),457,0);
ax(d3.axisLeft(yb).tickValues(bMajorT).tickFormat("").tickSize(-15),457,0);
ax(d3.axisRight(yb).tickValues(bMinorT).tickFormat((d,i)=>bMinorL[i]).tickSize(-8).tickPadding(4),803,0,15);
ax(d3.axisRight(yb).tickValues(bMajorT).tickFormat((d,i)=>bMajorL[i]).tickSize(-15).tickPadding(15),803,0,21);
frame(457,9,803,352);
{const t=svg.append("text").attr("x",633).attr("y",412).attr("text-anchor","middle").attr("font-size",22).attr("fill",TXT);
 t.append("tspan").text("Normalized grade, "); t.append("tspan").attr("font-style","italic").text("G");}
{const t=svg.append("text").attr("transform","translate(854,172) rotate(90)").attr("text-anchor","middle")
  .attr("dominant-baseline","central").attr("font-size",22).attr("fill",TXT);
 t.append("tspan").text("1/τ"); t.append("tspan").attr("font-size",15).attr("dy","0.35em").text("o");}
svg.append("text").attr("x",818).attr("y",410).attr("text-anchor","middle").attr("font-size",18).attr("font-style","italic").attr("fill",TXT).text("b");

// ---------- Panel c ----------
const xc=d3.scaleLinear().domain([6.53,18.96]).range([79,398]);
const ycL=d3.scaleLinear().domain([0.4358,0.875]).range([806,462]);
const ycR=d3.scaleLinear().domain([-23.7,677.5]).range([806,462]);
const gc=plotBg(79,462,398,806);
gc.append("path").datum(cEdges.map((e,i)=>[e,cCounts[Math.min(i,cCounts.length-1)]]))
  .attr("fill","#777777")
  .attr("d",d3.area().curve(d3.curveStepAfter).x(d=>xc(d[0])).y0(ycR(0)).y1(d=>ycR(d[1])));
gc.append("path").datum(d3.zip(nX,nY)).attr("fill","none").attr("stroke","#5c5cf2").attr("stroke-width",2.2)
  .attr("stroke-dasharray","7,5").attr("d",d3.line().x(d=>xc(d[0])).y(d=>ycL(d[1])));
gc.append("g").selectAll("path").data(d3.zip(nX,nY)).join("path")
  .attr("d",d3.symbol(d3.symbolTriangle,115)).attr("transform",d=>`translate(${xc(d[0])},${ycL(d[1])})`)
  .attr("fill","#6868f0").attr("stroke","#000").attr("stroke-width",2);
ax(d3.axisBottom(xc).tickValues(cXTicks).tickSize(-10).tickPadding(16),0,806,21);
ax(d3.axisTop(xc).tickValues(cXTicks).tickFormat("").tickSize(-10),0,462);
ax(d3.axisLeft(ycL).tickValues(cLTicks).tickFormat(d3.format(".1f")).tickSize(-10).tickPadding(6),79,0,21);
ax(d3.axisRight(ycR).tickValues(cRTicks).tickSize(-10).tickPadding(6),398,0,21);
frame(79,462,398,806);
{const g=svg.append("g").attr("transform","translate(20,654) rotate(-90)");
 g.append("line").attr("x1",24).attr("x2",56).attr("y1",0).attr("y2",0).attr("stroke","#5c5cf2").attr("stroke-width",2.2).attr("stroke-dasharray","6,4");
 g.append("path").attr("d",d3.symbol(d3.symbolTriangle,115)).attr("transform","translate(44,0)").attr("fill","#6868f0").attr("stroke","#000").attr("stroke-width",2);
 const t=g.append("text").attr("text-anchor","middle").attr("dominant-baseline","central").attr("font-size",23).attr("fill",TXT);
 t.append("tspan").text("<"); t.append("tspan").attr("font-style","italic").text("n"); t.append("tspan").text(">");}
{const g=svg.append("g").attr("transform","translate(464,613) rotate(90)");
 g.append("text").attr("text-anchor","middle").attr("dominant-baseline","central").attr("font-size",22).attr("fill",TXT).text("Occurrence");
 g.append("rect").attr("x",84).attr("y",-8).attr("width",21).attr("height",16).attr("fill","#777777");}
svg.append("text").attr("x",238).attr("y",866).attr("text-anchor","middle").attr("font-size",22).attr("fill",TXT).text("Ln(γ)");
svg.append("text").attr("x",23).attr("y",882).attr("text-anchor","middle").attr("font-size",18).attr("font-style","italic").attr("fill",TXT).text("c");

// ---------- Panel d ----------
const xd=d3.scaleLinear().domain([-0.028,2.03]).range([519,794]);
const yd=d3.scaleLinear().domain([-1.3,187]).range([809,467]);
const gd=plotBg(519,467,794,809);
gd.append("path").datum(dEdges.map((e,i)=>[e,dObs[Math.min(i,dObs.length-1)]]))
  .attr("fill","#6f6f6f")
  .attr("d",d3.area().curve(d3.curveStepAfter).x(d=>xd(d[0])).y0(yd(0)).y1(d=>yd(d[1])));
gd.append("path").datum(dEdges.map((e,i)=>[e,dModel[Math.min(i,dModel.length-1)]]))
  .attr("fill","none").attr("stroke","#000").attr("stroke-width",2.2)
  .attr("d",d3.line().curve(d3.curveStepAfter).x(d=>xd(d[0])).y(d=>yd(d[1])));
gd.append("line").attr("x1",519).attr("x2",794).attr("y1",yd(0)+1.2).attr("y2",yd(0)+1.2).attr("stroke","#fff").attr("stroke-width",1.2);
svg.append("rect").attr("x",657).attr("y",497).attr("width",20).attr("height",15).attr("fill","#6f6f6f");
svg.append("line").attr("x1",647).attr("x2",686).attr("y1",530).attr("y2",530).attr("stroke","#000").attr("stroke-width",2);
[["Observed",694,504],["Model",694,530]].forEach(d=>{
  svg.append("text").attr("x",d[1]).attr("y",d[2]).attr("dominant-baseline","central").attr("font-size",19).attr("fill",TXT).text(d[0]);
});
ax(d3.axisBottom(xd).tickValues(dXTicks).tickFormat(d3.format("d")).tickSize(-10).tickPadding(16),0,809,21);
ax(d3.axisTop(xd).tickValues(dXTicks).tickFormat("").tickSize(-10),0,467);
ax(d3.axisLeft(yd).tickValues(dYTicks).tickFormat("").tickSize(-10),519,0);
ax(d3.axisRight(yd).tickValues(dYTicks).tickSize(-10).tickPadding(6),794,0,21);
frame(519,467,794,809);
svg.append("text").attr("transform","translate(854,638) rotate(90)").attr("text-anchor","middle")
  .attr("dominant-baseline","central").attr("font-size",22).attr("fill",TXT).text("Occurrence");
{const t=svg.append("text").attr("x",654).attr("y",868).attr("text-anchor","middle").attr("font-size",22).attr("fill",TXT);
 t.append("tspan").text("1/τ"); t.append("tspan").attr("font-size",15).attr("dy","0.3em").text("o");}
svg.append("text").attr("x",820).attr("y",882).attr("text-anchor","middle").attr("font-size",18).attr("font-style","italic").attr("fill",TXT).text("d");
</script>
</body></html>
